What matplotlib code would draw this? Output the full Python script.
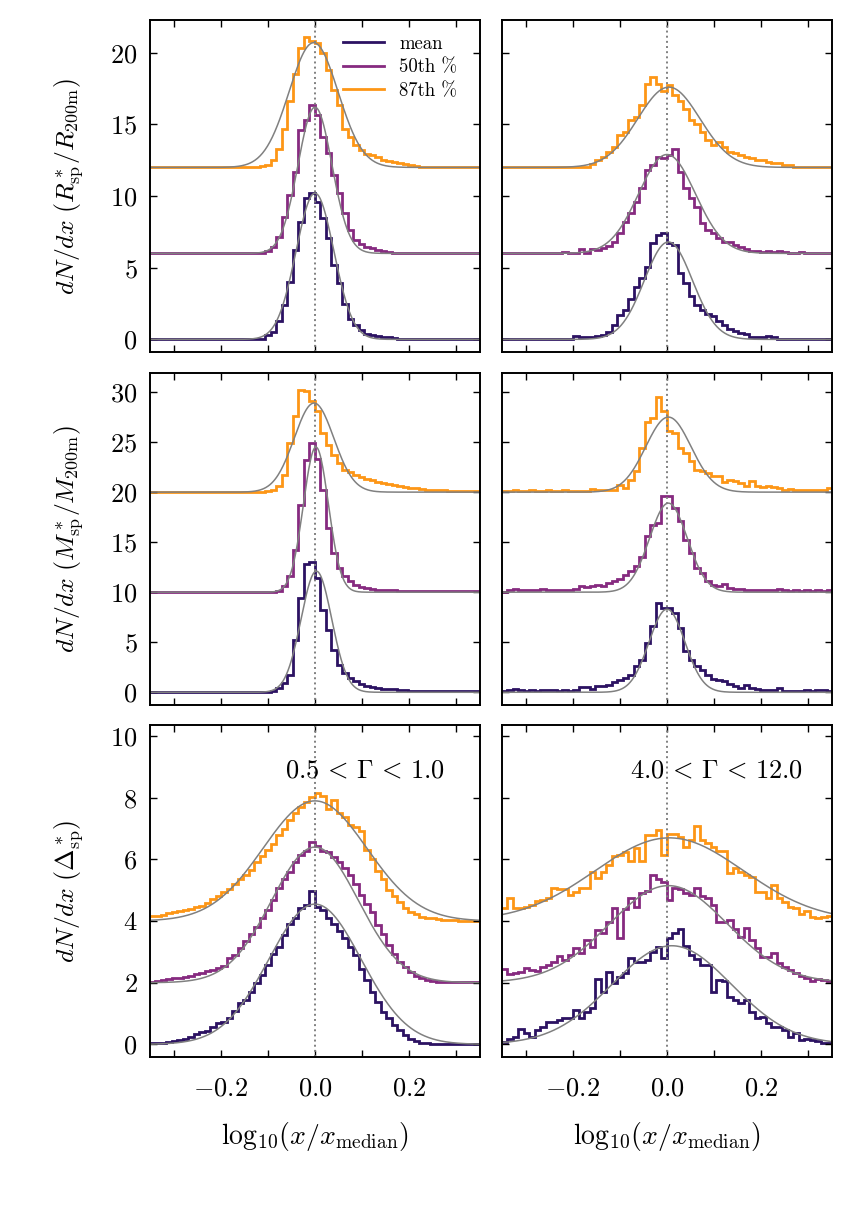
import matplotlib
matplotlib.use("Agg")
import matplotlib.pyplot as plt
import numpy as np

plt.rcParams['font.family'] = ['serif']
plt.rcParams['font.serif'] = ['cmr10', 'DejaVu Serif']
plt.rcParams['mathtext.fontset'] = 'cm'
plt.rcParams['axes.formatter.use_mathtext'] = True
plt.rcParams['axes.unicode_minus'] = False

# histogram bins
bin_lo, bin_hi, n_bins = -0.35, 0.35, 60

labels = ['mean', '50th %', '87th %']
colors = ['#2c1262', '#862a80', '#fd9616']
offsets = [[0, 6, 12], [0, 10, 20], [0, 2, 4]]
ylims = [(-0.88, 22.28), (-1.27, 31.9), (-0.41, 10.36)]
ytick_steps = [5, 5, 2]
ylabels = [r'$dN/dx\ (R^*_{\rm sp}/R_{\rm 200m})$',
           r'$dN/dx\ (M^*_{\rm sp}/M_{\rm 200m})$',
           r'$dN/dx\ (\Delta^*_{\rm sp})$']
gamma_bins = [r'$0.5\, <\, \Gamma\, <\, 1.0$', r'$4.0\, <\, \Gamma\, <\, 12.0$']

# ---- R_sp, low Gamma (left column) ----
r_low_mean = [0, 0, 0, 0, 0, 0, 0, 0, 0, 0,
              0, 0, 0, 0, 0, 0, 0, 0, 0, 0,
              0.05, 0.3, 0.55, 1.25, 2.4, 4.0, 6.25, 8.2, 9.85, 10.2,
              9.6, 8.45, 7.05, 5.2, 3.9, 2.5, 1.45, 1.0, 0.65, 0.4,
              0.3, 0.25, 0.2, 0.15, 0.1, 0.05, 0.05, 0, 0, 0,
              0, 0, 0, 0, 0, 0, 0, 0, 0, 0]
r_low_p50 = [0, 0, 0, 0, 0, 0, 0, 0, 0, 0,
             0, 0, 0, 0, 0, 0, 0, 0, 0, 0,
             0, 0.15, 0.45, 1.15, 2.55, 4.05, 5.7, 8.6, 9.3, 10.35,
             9.65, 8.15, 7.0, 5.45, 4.2, 2.8, 1.6, 0.95, 0.65, 0.45,
             0.35, 0.25, 0.15, 0.1, 0.05, 0.05, 0, 0, 0, 0,
             0, 0, 0, 0, 0, 0, 0, 0, 0, 0]
r_low_p87 = [0, 0, 0, 0, 0, 0, 0, 0, 0, 0,
             0, 0, 0, 0, 0, 0, 0, 0, 0.02, 0.05,
             0.1, 0.2, 0.55, 1.3, 2.7, 4.6, 6.55, 8.3, 9.1, 8.85,
             8.65, 7.95, 6.8, 5.4, 4.35, 2.7, 2.15, 1.55, 1.2, 0.95,
             0.85, 0.7, 0.55, 0.45, 0.4, 0.3, 0.25, 0.15, 0.1, 0.05,
             0, 0, 0, 0, 0, 0, 0, 0, 0, 0]
# ---- R_sp, high Gamma (right column) ----
r_high_mean = [0, 0, 0.05, 0, 0.05, 0, 0.05, 0, 0.05, 0,
               0.05, 0.05, 0.05, 0.25, 0.15, 0.2, 0.2, 0.25, 0.3, 0.55,
               1.0, 1.7, 2.05, 2.85, 3.65, 4.25, 5.05, 6.7, 7.3, 7.4,
               6.7, 6.6, 4.6, 3.9, 3.0, 2.4, 2.05, 1.8, 1.6, 1.25,
               1.0, 0.75, 0.6, 0.45, 0.35, 0.2, 0.15, 0.2, 0.25, 0.15,
               0.05, 0.05, 0.05, 0.05, 0.05, 0.05, 0, 0, 0.05, 0]
r_high_p50 = [0, 0, 0, 0, 0, 0, 0, 0, 0, 0,
              0.05, 0.1, 0, 0, 0.3, 0.05, 0.3, 0.25, 0.35, 0.5,
              0.8, 1.4, 2.2, 2.8, 3.6, 4.55, 5.8, 6.15, 6.75, 6.65,
              6.85, 7.3, 5.7, 4.55, 3.85, 3.25, 2.1, 1.65, 1.4, 1.05,
              0.8, 0.8, 0.6, 0.45, 0.3, 0.2, 0.2, 0.1, 0.2, 0.1,
              0.2, 0.1, 0.05, 0, 0.1, 0.05, 0, 0.05, 0, 0]
r_high_p87 = [0, 0, 0, 0, 0, 0, 0, 0, 0, 0,
              0, 0, 0, 0, 0.05, 0, 0.25, 0.5, 0.75, 1.1,
              1.45, 2.25, 2.5, 3.3, 3.55, 4.35, 5.85, 6.3, 5.85, 5.3,
              5.75, 5.05, 4.6, 4.1, 3.3, 3.05, 2.5, 1.9, 1.55, 1.8,
              1.45, 1.1, 1.0, 0.85, 0.75, 0.65, 0.5, 0.5, 0.4, 0.3,
              0.3, 0.15, 0.15, 0.05, 0, 0, 0.05, 0, 0.05, 0]

# ---- M_sp, low Gamma ----
m_low_mean = [0, 0, 0, 0, 0, 0, 0, 0, 0, 0,
              0, 0, 0, 0, 0, 0, 0, 0, 0, 0,
              0, 0, 0.1, 0.45, 0.95, 1.75, 5.25, 9.45, 12.85, 13.0,
              11.45, 8.25, 6.25, 4.25, 2.75, 1.95, 1.45, 1.1, 0.85, 0.65,
              0.55, 0.45, 0.35, 0.3, 0.3, 0.25, 0.2, 0.15, 0.1, 0.1,
              0.1, 0.1, 0.1, 0.1, 0.1, 0.1, 0.1, 0.1, 0.1, 0.1]
m_low_p50 = [0, 0, 0, 0, 0, 0, 0, 0, 0, 0,
             0, 0, 0, 0, 0, 0, 0, 0, 0, 0,
             0, 0, 0, 0.1, 0.6, 1.6, 4.25, 8.75, 13.25, 14.95,
             13.35, 10.25, 6.45, 3.95, 2.45, 1.6, 1.1, 0.75, 0.55, 0.4,
             0.35, 0.25, 0.25, 0.2, 0.2, 0.15, 0.1, 0.1, 0.1, 0.1,
             0.1, 0.1, 0.1, 0.1, 0.1, 0.1, 0.1, 0.1, 0.1, 0.1]
m_low_p87 = [0, 0, 0, 0, 0, 0, 0, 0, 0, 0,
             0, 0, 0, 0, 0, 0, 0.05, 0.05, 0.05, 0.05,
             0.05, 0.1, 0.25, 0.6, 1.75, 4.95, 7.6, 10.25, 10.1, 9.1,
             8.1, 5.95, 4.75, 3.75, 2.95, 2.25, 2.0, 1.75, 1.55, 1.35,
             1.2, 1.05, 0.95, 0.85, 0.75, 0.6, 0.55, 0.45, 0.4, 0.35,
             0.25, 0.25, 0.2, 0.2, 0.15, 0.15, 0.1, 0.1, 0.1, 0.1]
# ---- M_sp, high Gamma ----
m_high_mean = [0.1, 0.25, 0.35, 0.2, 0.1, 0.2, 0.1, 0.2, 0.2, 0.2,
               0.1, 0.2, 0.1, 0.25, 0.55, 0.55, 0.35, 0.6, 0.65, 0.75,
               1.0, 1.2, 1.45, 1.75, 2.6, 3.25, 4.95, 6.6, 8.95, 8.45,
               8.45, 7.95, 6.45, 4.1, 3.25, 2.6, 2.25, 1.75, 1.35, 1.25,
               1.1, 0.85, 0.65, 0.45, 0.75, 0.45, 0.35, 0.25, 0.25, 0.2,
               0.45, 0.1, 0.1, 0.1, 0.1, 0.2, 0.1, 0.2, 0.2, 0.1]
m_high_p50 = [0, 0.25, 0.35, 0.2, 0.25, 0.2, 0.25, 0.35, 0.25, 0.25,
              0.25, 0.25, 0.25, 0.35, 0.6, 0.5, 0.65, 0.75, 0.65, 0.95,
              1.1, 1.35, 1.75, 2.1, 2.6, 3.55, 5.65, 6.75, 6.95, 9.6,
              9.65, 8.45, 7.1, 5.25, 3.95, 2.45, 1.95, 1.1, 0.75, 0.6,
              0.85, 0.45, 0.35, 0.35, 0.25, 0.25, 0.25, 0.2, 0.25, 0.2,
              0.35, 0.2, 0.1, 0.2, 0.1, 0.2, 0.1, 0.2, 0.1, 0.2]
m_high_p87 = [0.15, 0.15, 0.2, 0.15, 0.15, 0.2, 0.15, 0.15, 0.2, 0.15,
              0.15, 0.2, 0.15, 0.15, 0.15, 0.15, 0.35, 0.2, 0.25, 0.25,
              0.25, 0.75, 0.45, 1.25, 2.1, 4.45, 7.0, 7.45, 9.55, 8.1,
              6.1, 5.95, 4.45, 3.95, 3.1, 2.25, 2.1, 1.95, 1.6, 1.6,
              1.0, 1.2, 1.1, 0.95, 0.65, 1.1, 0.6, 0.5, 0.6, 0.55,
              0.45, 0.25, 0.3, 0.25, 0.25, 0.2, 0.25, 0.2, 0.25, 0.45]

# ---- Delta_sp, low Gamma ----
d_low_mean = [0.03, 0.03, 0.05, 0.09, 0.11, 0.14, 0.19, 0.25, 0.32, 0.41,
              0.43, 0.57, 0.68, 0.74, 0.84, 1.08, 1.33, 1.44, 1.71, 1.98,
              2.25, 2.59, 2.92, 3.17, 3.55, 3.89, 4.09, 4.41, 4.52, 4.97,
              4.46, 4.36, 4.09, 3.89, 3.68, 3.44, 3.17, 2.9, 2.46, 2.09,
              1.71, 1.38, 1.06, 0.84, 0.63, 0.46, 0.3, 0.19, 0.11, 0.06,
              0.03, 0.02, 0.02, 0.02, 0.02, 0.02, 0.02, 0.02, 0.02, 0.02]
d_low_p50 = [0.03, 0.05, 0.08, 0.12, 0.14, 0.16, 0.2, 0.23, 0.27, 0.3,
             0.38, 0.41, 0.49, 0.55, 0.79, 0.9, 1.14, 1.35, 1.57, 1.82,
             2.09, 2.36, 2.68, 3.06, 3.36, 3.6, 3.92, 4.14, 4.27, 4.57,
             4.44, 4.27, 4.23, 4.09, 3.92, 3.71, 3.49, 3.19, 2.84, 2.57,
             2.28, 1.87, 1.57, 1.22, 0.92, 0.68, 0.52, 0.34, 0.23, 0.14,
             0.09, 0.05, 0.03, 0.01, 0.01, 0.01, 0.01, 0.01, 0.01, 0.01]
d_low_p87 = [0.15, 0.17, 0.2, 0.25, 0.3, 0.32, 0.35, 0.4, 0.45, 0.5,
             0.6, 0.7, 0.82, 0.93, 1.05, 1.2, 1.35, 1.5, 1.65, 1.92,
             2.1, 2.3, 2.5, 2.8, 3.0, 3.28, 3.5, 3.7, 3.85, 4.03,
             4.14, 4.07, 3.65, 3.92, 3.52, 3.38, 3.13, 3.06, 2.92, 2.3,
             2.03, 1.62, 1.38, 1.0, 0.82, 0.63, 0.43, 0.3, 0.22, 0.14,
             0.11, 0.09, 0.07, 0.04, 0.03, 0.02, 0.01, 0.01, 0.01, 0.01]
# ---- Delta_sp, high Gamma ----
d_high_mean = [0.09, 0.19, 0.25, 0.5, 0.36, 0.25, 0.46, 0.57, 0.71, 0.74,
               0.79, 0.86, 0.84, 1.11, 0.84, 1.04, 1.17, 2.12, 1.71, 2.36,
               1.98, 2.19, 2.3, 2.79, 2.68, 2.66, 2.74, 3.0, 3.17, 2.79,
               3.44, 3.6, 3.74, 3.2, 2.9, 2.77, 2.57, 2.59, 1.71, 2.09,
               2.05, 1.55, 1.44, 1.33, 1.44, 1.06, 0.84, 0.9, 0.68, 0.57,
               0.57, 0.46, 0.25, 0.36, 0.14, 0.19, 0.14, 0.11, 0.06, 0.03]
d_high_p50 = [0.46, 0.27, 0.3, 0.36, 0.49, 0.41, 0.38, 0.52, 0.59, 0.68,
              0.88, 0.74, 0.9, 1.14, 0.98, 1.38, 1.17, 1.71, 1.6, 1.98,
              2.43, 1.44, 2.39, 2.74, 2.46, 2.9, 2.97, 3.49, 3.38, 3.28,
              2.68, 3.06, 3.04, 2.9, 2.84, 3.08, 2.82, 2.76, 2.52, 1.98,
              1.98, 2.03, 1.74, 1.49, 1.76, 1.38, 1.14, 0.84, 0.84, 0.95,
              0.63, 0.52, 0.41, 0.3, 0.23, 0.14, 0.05, 0.12, 0.09, 0.05]
d_high_p87 = [0.43, 0.76, 0.41, 0.43, 0.46, 0.52, 0.65, 0.68, 0.74, 1.06,
              1.04, 1.04, 0.86, 0.95, 1.06, 1.08, 1.6, 1.41, 1.6, 1.82,
              2.12, 2.14, 2.23, 1.95, 2.38, 1.95, 2.79, 2.79, 2.95, 2.14,
              2.84, 2.81, 2.74, 2.41, 2.63, 3.09, 2.63, 2.52, 2.41, 2.27,
              2.27, 1.55, 1.71, 1.6, 1.49, 1.44, 0.95, 0.95, 0.76, 1.17,
              0.74, 0.63, 0.46, 0.41, 0.22, 0.32, 0.14, 0.11, 0.14, 0.17]

# gaussian fits (amplitude, centre, width) for mean / 50th / 87th
fit_r_low = [(10.2, 0.0, 0.040), (10.2, 0.0, 0.036), (8.7, -0.003, 0.052)]
fit_r_high = [(6.8, 0.003, 0.051), (6.9, 0.0, 0.060), (5.6, 0.004, 0.066)]
fit_m_low = [(12.1, 0.003, 0.0325), (14.5, 0.002, 0.0265), (8.9, -0.002, 0.042)]
fit_m_high = [(8.3, 0.0, 0.038), (8.9, 0.003, 0.040), (7.5, 0.003, 0.048)]
fit_d_low = [(4.55, 0.0, 0.098), (4.4, 0.0, 0.092), (3.9, 0.0, 0.11)]
fit_d_high = [(3.2, 0.01, 0.127), (3.15, 0.003, 0.125), (2.7, 0.005, 0.157)]

hists = [[[r_low_mean, r_low_p50, r_low_p87], [r_high_mean, r_high_p50, r_high_p87]],
         [[m_low_mean, m_low_p50, m_low_p87], [m_high_mean, m_high_p50, m_high_p87]],
         [[d_low_mean, d_low_p50, d_low_p87], [d_high_mean, d_high_p50, d_high_p87]]]
fits = [[fit_r_low, fit_r_high], [fit_m_low, fit_m_high], [fit_d_low, fit_d_high]]

edges = np.linspace(bin_lo, bin_hi, n_bins + 1)
xfit = np.linspace(-0.35, 0.35, 400)

fig = plt.figure(figsize=(8.55, 12.08), dpi=100)
lefts = [0.1754, 0.5871]
bottoms = [0.7086, 0.4164, 0.125]
W, H = 0.386, 0.2748

for r in range(3):
    for c in range(2):
        ax = fig.add_axes([lefts[c], bottoms[r], W, H])
        off = offsets[r]
        for i in range(3):
            ax.stairs(np.array(hists[r][c][i]) + off[i], edges, baseline=None,
                      color=colors[i], lw=2.0, label=labels[i])
        for i in range(3):
            a, mu, s = fits[r][c][i]
            ax.plot(xfit, off[i] + a * np.exp(-(xfit - mu) ** 2 / (2 * s ** 2)),
                    color='gray', lw=1.1)
        ax.axvline(0, color='gray', ls=':', lw=1.4)
        ax.set_xlim(-0.35, 0.35)
        ax.set_ylim(*ylims[r])
        ax.set_xticks([-0.2, 0.0, 0.2])
        ax.set_xticks([-0.3, -0.1, 0.1, 0.3], minor=True)
        ax.set_yticks(np.arange(0, ylims[r][1], ytick_steps[r]))
        ax.tick_params(which='both', direction='in', top=True, right=True,
                       length=5, width=1, labelsize=19, pad=9)
        ax.tick_params(axis='x', pad=14)
        for sp in ax.spines.values():
            sp.set_linewidth(1.4)
        if r == 2:
            ax.set_xticklabels([r'$-0.2$', r'$0.0$', r'$0.2$'])
            ax.set_xlabel(r'$\mathrm{log}_{10}(x/x_{\rm median})$', fontsize=20)
            ax.xaxis.set_label_coords(0.5, -0.19)
            ax.text(0.65, 0.862, gamma_bins[c], transform=ax.transAxes,
                    ha='center', va='center', fontsize=19)
        else:
            ax.set_xticklabels([])
        if c == 0:
            ax.set_ylabel(ylabels[r], fontsize=18.5)
            ax.yaxis.set_label_coords(-0.195, 0.5)
        else:
            ax.set_yticklabels([])
        if r == 0 and c == 0:
            ax.legend(loc='upper left', bbox_to_anchor=(0.585, 0.955),
                      frameon=False, fontsize=13.5, handlelength=2.2,
                      handletextpad=0.8, labelspacing=0.3, borderpad=0,
                      borderaxespad=0)

fig.savefig('out.png', dpi=100)
